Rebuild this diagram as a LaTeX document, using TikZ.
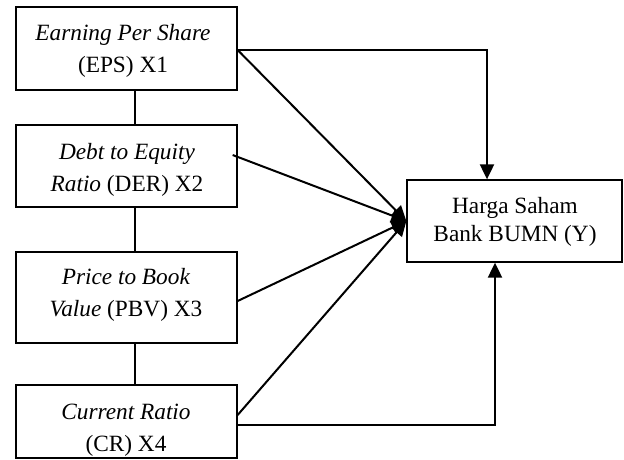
\documentclass[tikz,border=0pt]{standalone}
\usepackage{fontspec}
\setmainfont{Liberation Serif}
\usetikzlibrary{arrows.meta}
\begin{document}
\begin{tikzpicture}[x=1pt,y=-1pt,
  box/.style={draw,line width=1.3pt,inner sep=0pt},
  lbl/.style={anchor=base,inner sep=0pt,font=\fontsize{23.3}{32}\selectfont},
  lnk/.style={line width=2pt},
  arr/.style={line width=2pt,-{Triangle[length=15pt,width=14pt]}}]
\useasboundingbox (0,0) rectangle (624,459);
% boxes
\node[box,minimum width=221pt,minimum height=83pt] (b1) at (126.5,48.5) {};
\node[box,minimum width=221pt,minimum height=82pt] (b2) at (126.5,166) {};
\node[box,minimum width=221pt,minimum height=91pt] (b3) at (126.5,297.5) {};
\node[box,minimum width=221pt,minimum height=73pt] (b4) at (126.5,421.5) {};
\node[box,minimum width=215pt,minimum height=82pt] (y) at (514.5,221) {};
% texts
\node[lbl] (t1) at (123,40.7) {\begin{tabular}[t]{@{}c@{}}\textit{Earning Per Share}\\(EPS) X1\end{tabular}};
\node[lbl] (t2) at (127,159) {\begin{tabular}[t]{@{}c@{}}\textit{Debt to Equity}\\\textit{Ratio} (DER) X2\end{tabular}};
\node[lbl] (t3) at (126,284) {\begin{tabular}[t]{@{}c@{}}\textit{Price to Book}\\\textit{Value} (PBV) X3\end{tabular}};
\node[lbl] (t4) at (126,419) {\begin{tabular}[t]{@{}c@{}}\textit{Current Ratio}\\(CR) X4\end{tabular}};
\node[lbl,font=\fontsize{23.3}{28}\selectfont] (ty) at (515,213) {\begin{tabular}[t]{@{}c@{}}Harga Saham\\Bank BUMN (Y)\end{tabular}};
% vertical links
\draw[lnk] ([xshift=8.5pt]b1.south) -- ([xshift=8.5pt]b2.north);
\draw[lnk] ([xshift=8.5pt]b2.south) -- ([xshift=8.5pt]b3.north);
\draw[lnk] ([xshift=8.5pt]b3.south) -- ([xshift=8.5pt]b4.north);
% arrows
\draw[arr] ([yshift=-1.5pt]b1.east) -| ([xshift=-27.5pt]y.north);
\draw[arr] ([yshift=-1.5pt]b1.east) -- (y.west);
\draw[arr] ([shift={(-5pt,11pt)}]b2.east) -- (y.west);
\draw[arr] ([yshift=-3.5pt]b3.east) -- (y.west);
\draw[arr] ([yshift=6.5pt]b4.east) -- (y.west);
\draw[arr] ([yshift=-3.5pt]b4.east) -| ([xshift=-19.5pt]y.south);
\end{tikzpicture}
\end{document}
